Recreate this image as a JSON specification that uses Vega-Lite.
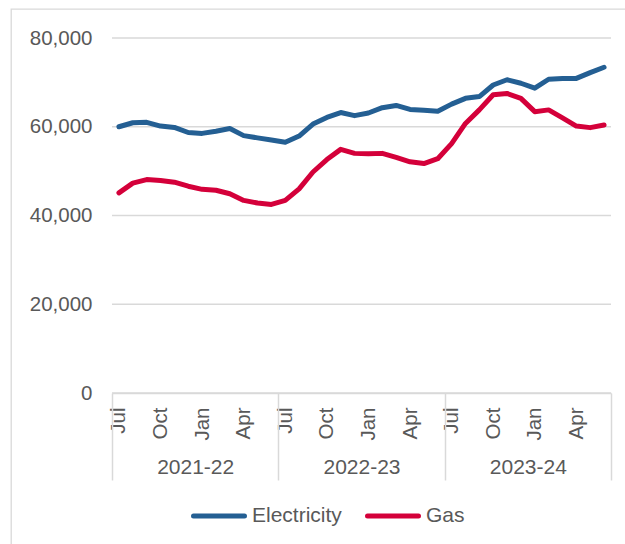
{
  "$schema": "https://vega.github.io/schema/vega-lite/v6.json",
  "width": 619,
  "height": 540,
  "autosize": {"type": "none"},
  "padding": {"left": 11, "top": 9, "right": -5, "bottom": -5},
  "background": "white",
  "config": {
    "font": "Liberation Sans",
    "view": {"stroke": "#D9D9D9", "strokeWidth": 1.3},
    "axis": {"labelFont": "Liberation Sans", "labelColor": "#595959", "labelFontSize": 20.5}
  },
  "datasets": {
    "energy": [
      {"idx":0,"month":"2021-07","fuel":"Electricity","value":60000},
      {"idx":1,"month":"2021-08","fuel":"Electricity","value":60900},
      {"idx":2,"month":"2021-09","fuel":"Electricity","value":61000},
      {"idx":3,"month":"2021-10","fuel":"Electricity","value":60150},
      {"idx":4,"month":"2021-11","fuel":"Electricity","value":59850},
      {"idx":5,"month":"2021-12","fuel":"Electricity","value":58700},
      {"idx":6,"month":"2022-01","fuel":"Electricity","value":58500},
      {"idx":7,"month":"2022-02","fuel":"Electricity","value":59000},
      {"idx":8,"month":"2022-03","fuel":"Electricity","value":59600},
      {"idx":9,"month":"2022-04","fuel":"Electricity","value":58000},
      {"idx":10,"month":"2022-05","fuel":"Electricity","value":57500},
      {"idx":11,"month":"2022-06","fuel":"Electricity","value":57000},
      {"idx":12,"month":"2022-07","fuel":"Electricity","value":56500},
      {"idx":13,"month":"2022-08","fuel":"Electricity","value":57900},
      {"idx":14,"month":"2022-09","fuel":"Electricity","value":60600},
      {"idx":15,"month":"2022-10","fuel":"Electricity","value":62100},
      {"idx":16,"month":"2022-11","fuel":"Electricity","value":63200},
      {"idx":17,"month":"2022-12","fuel":"Electricity","value":62500},
      {"idx":18,"month":"2023-01","fuel":"Electricity","value":63100},
      {"idx":19,"month":"2023-02","fuel":"Electricity","value":64300},
      {"idx":20,"month":"2023-03","fuel":"Electricity","value":64800},
      {"idx":21,"month":"2023-04","fuel":"Electricity","value":63900},
      {"idx":22,"month":"2023-05","fuel":"Electricity","value":63700},
      {"idx":23,"month":"2023-06","fuel":"Electricity","value":63500},
      {"idx":24,"month":"2023-07","fuel":"Electricity","value":65100},
      {"idx":25,"month":"2023-08","fuel":"Electricity","value":66400},
      {"idx":26,"month":"2023-09","fuel":"Electricity","value":66800},
      {"idx":27,"month":"2023-10","fuel":"Electricity","value":69400},
      {"idx":28,"month":"2023-11","fuel":"Electricity","value":70600},
      {"idx":29,"month":"2023-12","fuel":"Electricity","value":69800},
      {"idx":30,"month":"2024-01","fuel":"Electricity","value":68700},
      {"idx":31,"month":"2024-02","fuel":"Electricity","value":70700},
      {"idx":32,"month":"2024-03","fuel":"Electricity","value":70900},
      {"idx":33,"month":"2024-04","fuel":"Electricity","value":70900},
      {"idx":34,"month":"2024-05","fuel":"Electricity","value":72200},
      {"idx":35,"month":"2024-06","fuel":"Electricity","value":73400},
      {"idx":0,"month":"2021-07","fuel":"Gas","value":45100},
      {"idx":1,"month":"2021-08","fuel":"Gas","value":47300},
      {"idx":2,"month":"2021-09","fuel":"Gas","value":48100},
      {"idx":3,"month":"2021-10","fuel":"Gas","value":47900},
      {"idx":4,"month":"2021-11","fuel":"Gas","value":47500},
      {"idx":5,"month":"2021-12","fuel":"Gas","value":46600},
      {"idx":6,"month":"2022-01","fuel":"Gas","value":45900},
      {"idx":7,"month":"2022-02","fuel":"Gas","value":45700},
      {"idx":8,"month":"2022-03","fuel":"Gas","value":44900},
      {"idx":9,"month":"2022-04","fuel":"Gas","value":43400},
      {"idx":10,"month":"2022-05","fuel":"Gas","value":42800},
      {"idx":11,"month":"2022-06","fuel":"Gas","value":42500},
      {"idx":12,"month":"2022-07","fuel":"Gas","value":43400},
      {"idx":13,"month":"2022-08","fuel":"Gas","value":46000},
      {"idx":14,"month":"2022-09","fuel":"Gas","value":49800},
      {"idx":15,"month":"2022-10","fuel":"Gas","value":52600},
      {"idx":16,"month":"2022-11","fuel":"Gas","value":54900},
      {"idx":17,"month":"2022-12","fuel":"Gas","value":54000},
      {"idx":18,"month":"2023-01","fuel":"Gas","value":53900},
      {"idx":19,"month":"2023-02","fuel":"Gas","value":54000},
      {"idx":20,"month":"2023-03","fuel":"Gas","value":53100},
      {"idx":21,"month":"2023-04","fuel":"Gas","value":52100},
      {"idx":22,"month":"2023-05","fuel":"Gas","value":51700},
      {"idx":23,"month":"2023-06","fuel":"Gas","value":52800},
      {"idx":24,"month":"2023-07","fuel":"Gas","value":56200},
      {"idx":25,"month":"2023-08","fuel":"Gas","value":60750},
      {"idx":26,"month":"2023-09","fuel":"Gas","value":63800},
      {"idx":27,"month":"2023-10","fuel":"Gas","value":67200},
      {"idx":28,"month":"2023-11","fuel":"Gas","value":67500},
      {"idx":29,"month":"2023-12","fuel":"Gas","value":66400},
      {"idx":30,"month":"2024-01","fuel":"Gas","value":63400},
      {"idx":31,"month":"2024-02","fuel":"Gas","value":63800},
      {"idx":32,"month":"2024-03","fuel":"Gas","value":62000},
      {"idx":33,"month":"2024-04","fuel":"Gas","value":60150},
      {"idx":34,"month":"2024-05","fuel":"Gas","value":59800},
      {"idx":35,"month":"2024-06","fuel":"Gas","value":60400}
    ],
    "grid": [{"g": 0}, {"g": 20000}, {"g": 40000}, {"g": 60000}, {"g": 80000}],
    "bounds": [{"b": -0.5}, {"b": 11.5}, {"b": 23.5}, {"b": 35.5}],
    "years": [{"mid": 5.5, "fy": "2021-22"}, {"mid": 17.5, "fy": "2022-23"}, {"mid": 29.5, "fy": "2023-24"}]
  },
  "layer": [
    {
      "data": {"name": "grid"},
      "mark": {"type": "rule", "color": "#D9D9D9", "strokeWidth": 1.5},
      "encoding": {
        "x": {"datum": -0.5, "type": "quantitative",
          "scale": {"domain": [-0.5, 35.5], "range": [101, 600], "nice": false, "zero": false},
          "axis": null},
        "x2": {"datum": 35.5},
        "y": {
          "field": "g", "type": "quantitative",
          "scale": {"domain": [0, 80000], "range": [384, 29], "nice": false},
          "axis": {
            "values": [0, 20000, 40000, 60000, 80000],
            "format": ",.0f", "ticks": false, "domain": false, "grid": false,
            "labelPadding": 20, "offset": -101, "title": null
          }
        }
      }
    },
    {
      "data": {"name": "energy"},
      "mark": {"type": "line", "strokeWidth": 5, "strokeCap": "round", "strokeJoin": "round"},
      "encoding": {
        "x": {
          "field": "idx", "type": "quantitative",
          "scale": {"domain": [-0.5, 35.5], "range": [101, 600], "nice": false, "zero": false},
          "axis": {
            "orient": "bottom", "offset": -156,
            "values": [0, 3, 6, 9, 12, 15, 18, 21, 24, 27, 30, 33],
            "labelExpr": "['Jul','Oct','Jan','Apr'][(datum.value/3)%4]",
            "labelAngle": -90, "labelAlign": "right", "labelBaseline": "middle",
            "labelPadding": 14, "ticks": false, "grid": false,
            "domain": true, "domainColor": "#D9D9D9", "domainWidth": 1.5,
            "title": null, "labelOverlap": false
          }
        },
        "y": {
          "field": "value", "type": "quantitative",
          "scale": {"domain": [0, 80000], "range": [384, 29], "nice": false},
          "axis": {
            "values": [0, 20000, 40000, 60000, 80000],
            "format": ",.0f", "ticks": false, "domain": false, "grid": false,
            "labelPadding": 20, "offset": -101, "title": null
          }
        },
        "color": {
          "field": "fuel", "type": "nominal",
          "scale": {"domain": ["Electricity", "Gas"], "range": ["#245F93", "#D4003A"]},
          "legend": {
            "title": null, "orient": "none", "direction": "horizontal",
            "legendX": 180, "legendY": 479,
            "symbolType": "stroke", "symbolSize": 2600, "symbolStrokeWidth": 5,
            "labelFontSize": 21, "labelColor": "#595959", "labelFont": "Liberation Sans",
            "labelOffset": 5, "columnPadding": 15,
            "encode": {"symbols": {"update": {"strokeCap": {"value": "round"}}}}
          }
        }
      }
    },
    {
      "data": {"name": "bounds"},
      "mark": {"type": "rule", "opacity": 0},
      "encoding": {
        "x": {
          "field": "b", "type": "quantitative",
          "scale": {"domain": [-0.5, 35.5], "range": [101, 600], "nice": false, "zero": false},
          "axis": {
            "orient": "bottom", "offset": -156,
            "values": [-0.5, 11.5, 23.5, 35.5],
            "labels": false, "domain": false, "grid": false,
            "ticks": true, "tickSize": 87, "tickColor": "#D9D9D9", "tickWidth": 1.5,
            "title": null
          }
        }
      }
    },
    {
      "data": {"name": "years"},
      "mark": {"type": "text", "opacity": 0},
      "encoding": {
        "x": {
          "field": "mid", "type": "quantitative",
          "scale": {"domain": [-0.5, 35.5], "range": [101, 600], "nice": false, "zero": false},
          "axis": {
            "orient": "bottom", "offset": -156,
            "values": [5.5, 17.5, 29.5],
            "labelExpr": "['2021-22','2022-23','2023-24'][floor(datum.value/12)]",
            "labelAngle": 0, "labelAlign": "center", "labelBaseline": "middle",
            "labelPadding": 74, "labelFontSize": 21, "ticks": false, "domain": false, "grid": false,
            "title": null
          }
        },
        "text": {"field": "fy"}
      }
    }
  ],
  "resolve": {"axis": {"x": "independent"}}
}
